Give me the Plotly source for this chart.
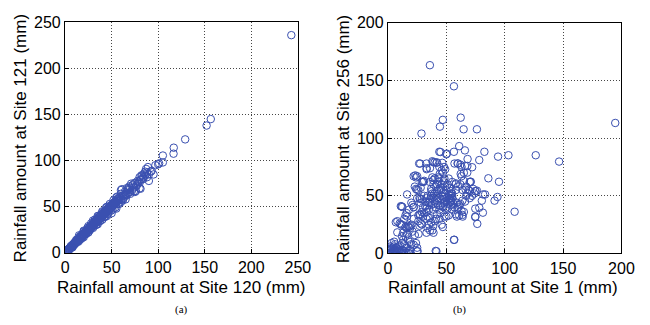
import plotly.graph_objects as go

# Panel (a): Site 120 vs Site 121
a_x = [0.5,1,1.5,2,2.5,3,3.5,4,4.5,5,5.5,6,6.5,7,7.5,8,8.5,9,9.5,10,10.5,11,11.5,12,12.5,13,13.5,14,14.5,15,
       15.5,16,16.5,17,17.5,18,18.5,19,19.5,20,20.5,21,21.5,22,22.5,23,23.5,24,24.5,25,25.5,26,26.5,27,27.5,28,28.5,29,29.5,30,
       30.5,31,31.5,32,32.5,33,33.5,34,34.5,35,35.5,36,36.5,37,37.5,38,38.5,39,39.5,40,40.5,41,41.5,42,42.5,43,43.5,44,44.5,45,
       45.5,46,46.5,47,47.5,48,48.5,49,49.5,50,50.5,51,51.5,52,52.5,53,53.5,54,54.5,55,55.5,56,56.5,57,58,59,60,60,61,62,
       63,64,65,66,67,68,69,70,71,72,73,74,75,76,77,78,79,80,81,82,83,84,85,86,87,88,89,90,90,92,
       93,95,97,100,101,105,105,116.5,116.7,129,152,156.5,243,
       15,20,25,30,35,40,45,50,55,60,65,70,75,80,81,
       15,20,25,30,35,40,45,55,2,3,5,7,9,11,13,17,19,23,27,33,37,43,47,52,57,62,64,66,
       20,22,24,26,28,30,32,34,36,38,40,42,44,46,48,50,52,54,56,58,60,62,64,66,68,70,72,74,76,78,
       80,82,84,86,88,10,12,14,16,18,6,8,4,2,1,0.2,3,5,7,9]
a_y = [0.5,1.2,1,2.3,2,3.5,3,4.5,4,5.5,5,6.8,6,7.5,7,8.8,8,9.8,9,11,10,12,11,13,12,14.5,13,15,14,16,
       15,17.5,16,18,17,19.5,18,20,19,21.5,20,22,21,23.5,22,24,23,25.5,24,26,25,28,26,28.5,27,29,28,31,29,31.5,
       30,33,31,34,32,35,33,36.5,34,37,35,38.5,36,39.5,37,40,38,41.5,39,42,40,43.5,41,44,42,45.5,43,46,44,47.5,
       45,48,46,49.5,47,50,48,51.5,49,52,50,53,51,54,52,55,53,56,54,57,55,58,56,59,57,61,59,68,69,62,
       60,66,64,70,68,65,72,70,75,68,74,71,76,67,73,75,77,82,79,80,84,82,86,84,91,87,93,78,85,88,
       89,85,95,96,97,105.5,98,107.5,114,123,138,145,236,
       13,17,22,27,31,36,40,43,48,55,58,64,66,70,69.5,
       19,24,29,35,40,45,50,60,1.5,3.5,4,6,8,10,12,15,17,21,25,30,34,39,44,48,53,57,62,63,
       23,20,27,24,32,28,36,31,40,35,44,39,49,42,53,46,57,49,61,53,64,58,63,62,70,66,73,67,72,78,
       76,84,80,88,82,9,14,12,18,16,7,6,3,1.5,0.3,0.2,2.5,4,8,8.5]

# Panel (b): Site 1 vs Site 256
b_x = [1,2,3,4,5,6,7,8,9,3,5,2,6,8,10,4,7,1,11,12,13,9,6,3,2,14,15,10,5,7,16,18,
       8,10,12,11,14,15,13,16,17,18,19,20,15,17,19,13,12,16,18,20,21,22,23,24,25,22,21,23,20,24,25,26,27,24,25,26,28,29,
       30,31,22,14,16,18,19,28,29,27,30,31,32,33,34,35,33,30,28,27,26,29,31,32,33,34,35,36,37,38,36,39,40,41,38,37,
       39,40,41,42,43,44,45,42,40,41,38,39,36,37,35,34,33,44,46,47,45,43,44,45,46,47,48,49,50,51,52,53,54,55,56,50,
       49,48,47,46,48,44,43,42,45,49,50,40,42,38,36,33,50,52,55,57,58,59,60,61,62,63,64,65,66,67,68,69,70,72,73,74,
       75,58,60,62,63,64,65,66,67,60,62,63,57,58,55,53,52,51,54,56,59,61,65,70,55,54,53,
       35.9,56.5,194.7,47,62.3,44.5,64.8,76.2,28.7,146.6,126.6,103.2,94.3,95.1,86,108.5,93.8,91.3,82.6,78.2,61,65.9,
       56.5,44,50.4,26.7,38.7,46.5,33.1,56.5,40.9,25.4,17.5,76.5,74.8,81.3,78.2,81.5,76.2,70.9,70.1,72.1,68.2,67.9,
       11.7,6.7,15,
       27.6,41.5,59.6,68,33.1,23.4,44.3,62.3,30.3,38.7,48.4,58.2,70.7,24.8,37.3,45.6,54,66.5,74.8,83.2,16.4,27.6,
       41.5,52.6,63.7,80.4,12.3,22,33.1,47,59.6,74.8,16.4,27.6,36,48.4,63.7,74.8,10.9,19.2,28.9,38.7,8,16.4,26.2,
       5.3,12.3,22,2.5,9.5,15.1,24.8,41.5,56.8,
       36,38,40,42,44,46,48,50,52,54,43,41,39,37,45,47,49,51,53,55]
b_y = [0.5,1,0.2,2,1,3,0.5,2,1,4,6,3,1.5,4,2,0.8,5,2,1,3,0.5,6,8,9,6,2,1,7,3,2.5,0.5,0.2,
       28,26,25,41,30,33,18,22,24,23,22,25,15,12,10,12,15,35,38,44,42,40,58,56,48,30,19,16,8,9,5,28,34,66,67,55,57,62,
       62,50,67,8,5,2,3,44,36,48,40,35,45,36,32,38,30,32,26,24,33,47,63,41,48,50,44,47,56,66,62,60,65,58,52,42,
       38,45,50,54,48,38,42,34,28,30,20,18,20,27,25,22,18,30,25,23,35,62,65,57,60,53,49,45,40,43,47,50,52,48,46,55,
       58,63,70,72,75,75,66,60,88,73,86,79,79,80,74,78,32,33,38,40,34,32,40,42,43,37,32,36,45,50,52,55,48,50,56,52,
       54,55,58,60,67,55,70,76,58,78,77,75,78,60,62,57,65,60,42,43,44,33,63,62,52,45,48,
       163.3,145,113.2,115.9,117.8,110,107.7,107.7,104,79.7,85.2,85.2,84,62.2,65.2,36.2,49,45.8,88.2,81,93.1,89.4,
       88.2,88.2,86.6,78,79.2,78.6,74,11.8,2.2,2,0.5,25.7,31.5,35.4,39.7,51.2,54.5,62.2,54.2,74.8,81.9,70.1,
       40.8,27.1,23,
       78,78.6,78.1,75.9,73.1,67.7,69,69,62.2,63.6,65,60.8,62.2,55.3,54,55.3,54,55.3,54,51.2,51.2,47.2,
       48.5,47.2,45.8,45.8,40.3,40.3,38.9,40.3,38.9,38.9,32,33.4,30.7,32,33.4,32,25.2,23.8,25.2,23.8,18.3,16.9,16.9,
       10.2,8.8,7.5,4.6,3.2,4.6,1.9,1.9,11.9,
       45,48,52,46,55,50,44,48,51,46,42,40,43,50,47,41,52,39,44,50]

cap_labels = ["(a)", "(b)"]
titles = ["Rainfall amount at Site 120 (mm)", "Rainfall amount at Site 121 (mm)",
          "Rainfall amount at Site 1 (mm)", "Rainfall amount at Site 256 (mm)"]
tick_a = [0, 50, 100, 150, 200, 250]
tick_b = [0, 50, 100, 150, 200]

mcolor = "rgb(58,80,176)"
mk = dict(symbol="circle-open", size=7.5, color=mcolor, line=dict(width=1, color=mcolor))
fig = go.Figure()
fig.add_trace(go.Scatter(x=a_x, y=a_y, mode="markers", xaxis="x", yaxis="y", marker=mk, showlegend=False))
fig.add_trace(go.Scatter(x=b_x, y=b_y, mode="markers", xaxis="x2", yaxis="y2", marker=mk, showlegend=False))

font = dict(family="Liberation Sans, Arial, sans-serif", size=16, color="black")
tfont = dict(family="Liberation Sans, Arial, sans-serif", size=17, color="black")
axcommon = dict(showline=True, mirror=True, linecolor="black", linewidth=1.3, showgrid=True,
                gridcolor="rgb(70,70,70)", griddash="1px,2px", gridwidth=1, zeroline=False, ticks="inside",
                ticklen=4, tickcolor="black", tickfont=font)

fig.update_layout(
    width=650, height=325, margin=dict(l=0, r=0, t=0, b=0),
    paper_bgcolor="white", plot_bgcolor="white", font=font,
    xaxis=dict(domain=[0.0965, 0.4642], range=[0, 250], tickvals=tick_a, anchor="y", **axcommon),
    yaxis=dict(domain=[0.205, 0.9538], range=[0, 250], tickvals=tick_a, anchor="x", **axcommon),
    xaxis2=dict(domain=[0.6066, 0.9754], range=[0, 200], tickvals=tick_b, anchor="y2", **axcommon),
    yaxis2=dict(domain=[0.203, 0.9517], range=[0, 200], tickvals=tick_b, anchor="x2", **axcommon),
)

def px(x, y):
    return x / 650, 1 - y / 325

for txt, (x, y), ang in [(titles[0], (182, 295), 0), (titles[1], (17, 137), -90),
                         (titles[2], (512, 295), 0), (titles[3], (348, 137.5), -90)]:
    ax, ay = px(x, y)
    fig.add_annotation(text=txt, x=ax, y=ay, xref="paper", yref="paper", showarrow=False,
                       font=tfont, textangle=ang, xanchor="center", yanchor="middle", borderpad=0)

capfont = dict(family="Liberation Serif, Times New Roman, serif", size=11, color="black")
for txt, x in [(cap_labels[0], 182), (cap_labels[1], 468)]:
    ax, ay = px(x, 318)
    fig.add_annotation(text=txt, x=ax, y=ay, xref="paper", yref="paper",
                       showarrow=False, font=capfont, xanchor="center", yanchor="middle", borderpad=0)

fig.write_html("out.html")
